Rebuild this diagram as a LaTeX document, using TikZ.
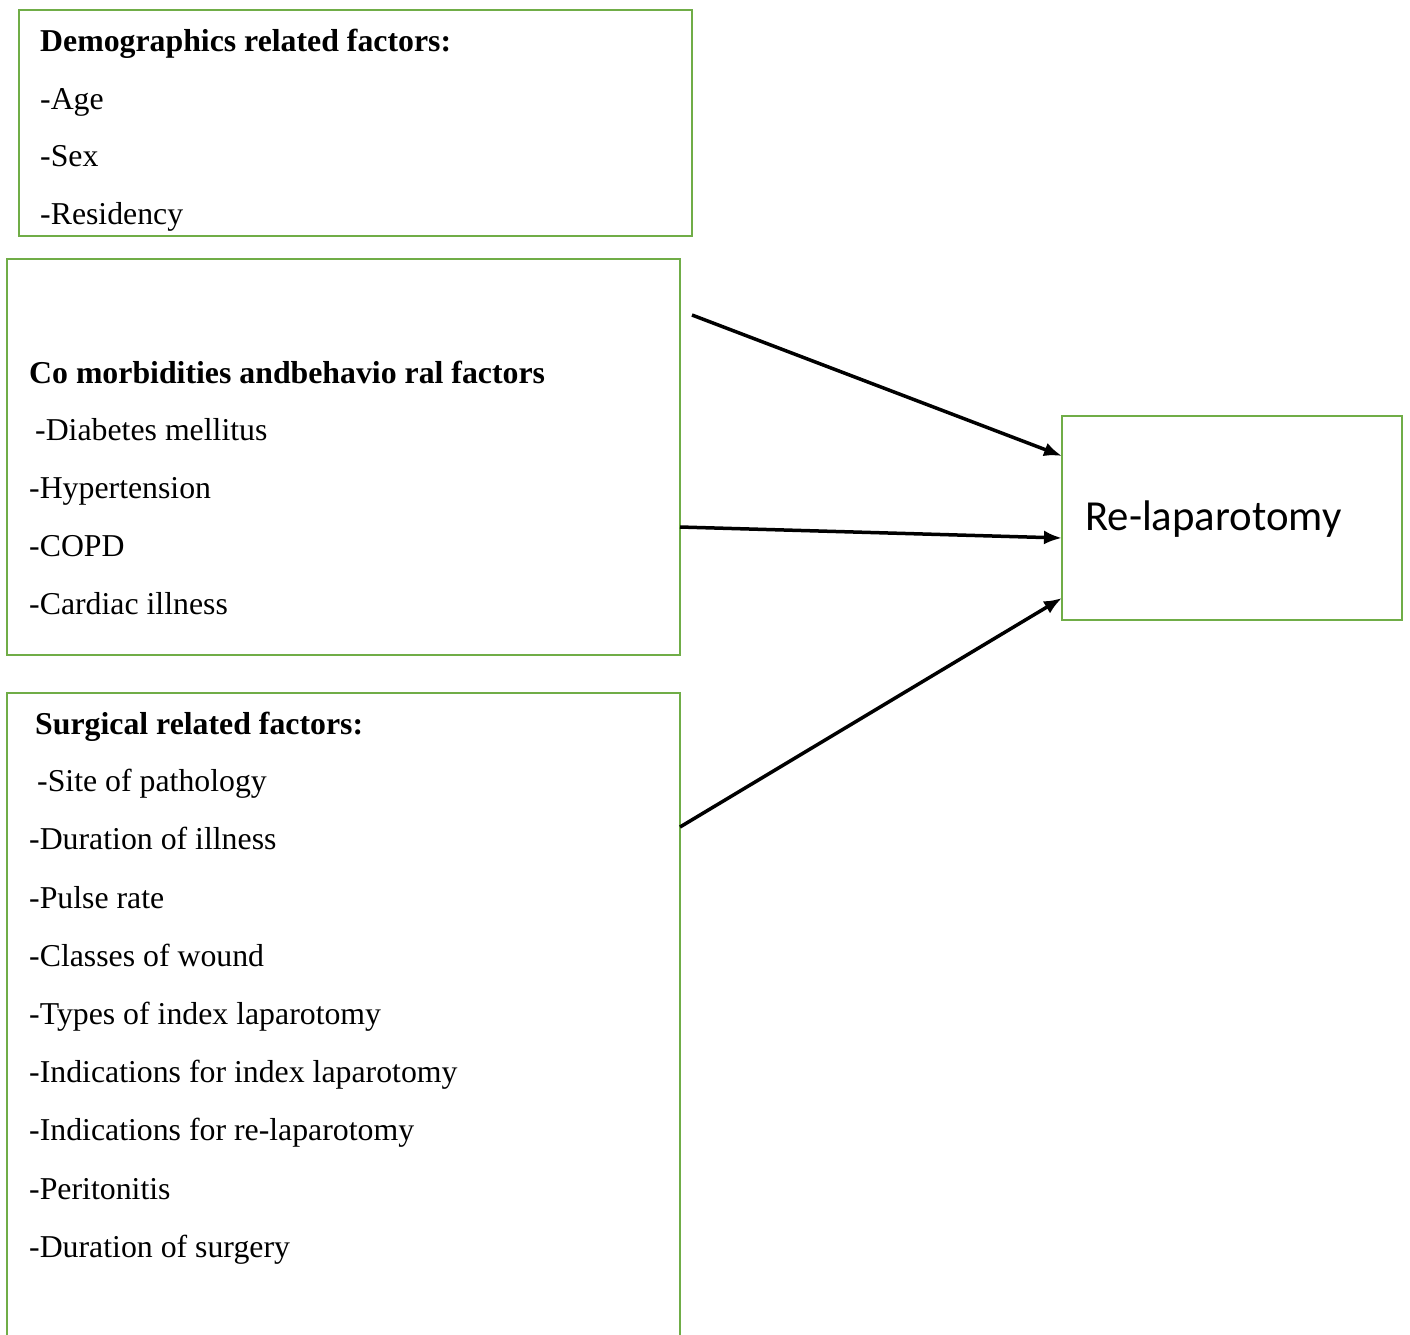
\documentclass[tikz,border=0pt]{standalone}
\usepackage{fontspec}
\setmainfont{Liberation Serif}
\newfontfamily\calib{Carlito}
\usetikzlibrary{arrows.meta}
\definecolor{boxgreen}{RGB}{112,173,71}
\begin{document}
\begin{tikzpicture}[x=1pt,y=-1pt,
  box/.style={draw=boxgreen, line width=2.5pt, rectangle, inner sep=0pt, outer sep=0pt, anchor=north west},
  txt/.style={anchor=base west, inner sep=0pt, font=\fontsize{31.8}{38}\selectfont},
  hd/.style={anchor=base west, inner sep=0pt, font=\fontsize{31.8}{38}\selectfont\bfseries},
  arr/.style={line width=3.5pt, -{Latex[length=18pt,width=14pt]}}]
\useasboundingbox (0,0) rectangle (1410,1334);
\clip (0,0) rectangle (1410,1334);
\fill[white] (0,0) rectangle (1410,1334);
% boxes
\node[box, minimum width=673pt, minimum height=226pt] (demo) at (19,10) {};
\node[box, minimum width=673pt, minimum height=396pt] (como) at (7,259) {};
\node[box, minimum width=673pt, minimum height=700pt] (surg) at (7,693) {};
\node[box, minimum width=340pt, minimum height=204pt] (rel) at (1062,416) {};
% box 1 text
\node[hd]  (d0) at (40,51)  {Demographics related factors:};
\node[txt] (d1) at (40,109) {-Age};
\node[txt] (d2) at (40,166) {-Sex};
\node[txt] (d3) at (40,224) {-Residency};
% box 2 text
\node[hd]  (c0) at (29,383) {Co morbidities andbehavio ral factors};
\node[txt] (c1) at (35,440) {-Diabetes mellitus};
\node[txt] (c2) at (29,498) {-Hypertension};
\node[txt] (c3) at (29,556) {-COPD};
\node[txt] (c4) at (29,614) {-Cardiac illness};
% box 3 text
\node[hd]  (s0) at (35,734)  {Surgical related factors:};
\node[txt] (s1) at (37,791)  {-Site of pathology};
\node[txt] (s2) at (29,849)  {-Duration of illness};
\node[txt] (s3) at (29,908)  {-Pulse rate};
\node[txt] (s4) at (29,966)  {-Classes of wound};
\node[txt] (s5) at (29,1024) {-Types of index laparotomy};
\node[txt] (s6) at (29,1082) {-Indications for index laparotomy};
\node[txt] (s7) at (29,1140) {-Indications for re-laparotomy};
\node[txt] (s8) at (29,1199) {-Peritonitis};
\node[txt] (s9) at (29,1257) {-Duration of surgery};
% outcome text
\node[anchor=base west, inner sep=0pt, font=\calib\fontsize{42.8}{50}\selectfont] (rt) at (1085,530) {Re-laparotomy};
% arrows
\coordinate (a1) at (692,315);
\draw[arr] (a1) -- ([yshift=-40pt]rel.north west);
\draw[arr] ([yshift=-268pt]como.north east) -- ([yshift=-122pt]rel.north west);
\draw[arr] ([yshift=-134pt]surg.north east) -- ([yshift=-182pt]rel.north west);
\end{tikzpicture}
\end{document}
